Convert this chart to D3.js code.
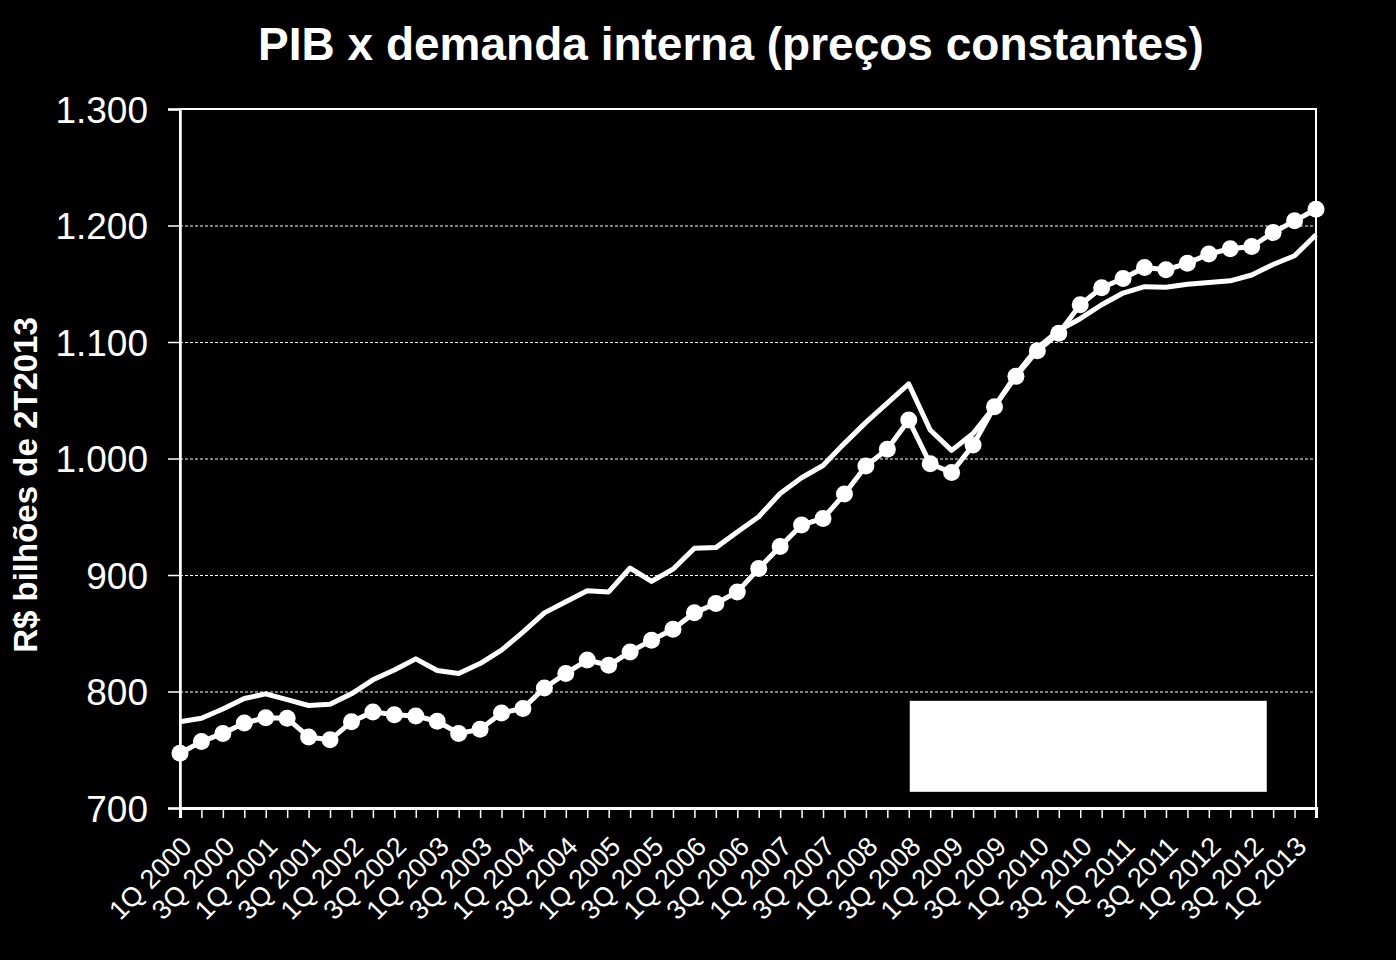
<!DOCTYPE html>
<html>
<head>
<meta charset="utf-8">
<script src="https://cdn.jsdelivr.net/npm/d3@7"></script>
<style>
  body { margin: 0; background: #000; }
  svg { display: block; }
  text { font-family: "Liberation Sans", Arial, sans-serif; fill: #fff; }
</style>
</head>
<body>
<div id="chart"></div>
<script>
// quarters 1Q 2000 .. 2Q 2013
const years = d3.range(2000, 2014);
const quarters = [];
years.forEach(y => [1, 2, 3, 4].forEach(q => quarters.push(q + "Q " + y)));
quarters.splice(54);

// linha simples
const pib = [
  774, 777, 785, 794, 798, 793, 788, 789, 798, 810,
  818.5, 828, 818, 815.5, 824, 835.5, 851, 867.5, 877, 886.5,
  885.5, 906, 894.5, 905, 923, 923.5, 937, 950, 970, 983.5,
  994, 1013, 1031, 1047.5, 1064, 1024.5, 1007, 1021.5, 1044.5, 1072,
  1095, 1110, 1120, 1132, 1142, 1147.5, 1147, 1149.5, 1151, 1152.5,
  1157.5, 1166.5, 1174, 1192
];

// linha com marcadores
const demanda = [
  747, 757, 764, 773, 777.5, 777, 761, 758.5, 774, 782.5,
  780, 779, 774.5, 764, 767.5, 781.5, 785.5, 803, 815.5, 827,
  822.5, 834, 844, 853.5, 867.5, 875.5, 885.5, 905.5, 924.5, 943,
  948.5, 969.5, 993.5, 1008, 1033, 995.5, 988, 1011.5, 1044.5, 1070.5,
  1092.5, 1107.5, 1132, 1146.5, 1154.5, 1164, 1162, 1167.5, 1175.5, 1180,
  1182, 1194, 1204, 1214
];

const yTicks = [700, 800, 900, 1000, 1100, 1200, 1300];

const W = 1396, H = 960;
const margin = { top: 109, right: 80, bottom: 152, left: 180 };
const width = W - margin.left - margin.right;
const height = H - margin.top - margin.bottom;

const ptBR = d3.formatLocale({ decimal: ",", thousands: ".", grouping: [3], currency: ["R$", ""] });
const fmt = ptBR.format(",");

const svg = d3.select("#chart").append("svg")
  .attr("width", W)
  .attr("height", H);

svg.append("rect").attr("width", W).attr("height", H).style("fill", "#000");

svg.append("text")
  .attr("x", 731)
  .attr("y", 60)
  .attr("text-anchor", "middle")
  .style("font-size", "46px")
  .style("font-weight", "bold")
  .text("PIB x demanda interna (preços constantes)");

const g = svg.append("g")
  .attr("transform", "translate(" + [margin.left, margin.top] + ")");

const xScale = d3.scalePoint()
  .domain(quarters)
  .range([0, width]);

const yScale = d3.scaleLinear()
  .domain([700, 1300])
  .range([height, 0]);

// grid
g.append("g")
  .attr("class", "grid")
  .call(d3.axisLeft(yScale).tickValues(yTicks.slice(1, -1)).tickSize(-width).tickFormat(""))
  .call(s => s.select(".domain").remove())
  .selectAll("line")
  .style("stroke", "#fff")
  .style("stroke-width", 1)
  .style("stroke-dasharray", "3,2");

// plot border
g.append("rect")
  .attr("width", width)
  .attr("height", height)
  .style("fill", "none")
  .style("stroke", "#fff")
  .style("stroke-width", 2);

const yAxis = g.append("g")
  .call(d3.axisLeft(yScale).tickValues(yTicks).tickSize(12).tickPadding(20).tickFormat(fmt));
yAxis.select(".domain").style("stroke", "#fff").style("stroke-width", 2.5);
yAxis.selectAll("line").style("stroke", "#fff").style("stroke-width", 1.5);
yAxis.selectAll("text")
  .style("font-size", "37px")
  .style("fill", "#fff")
  .attr("dy", "0.36em");

const xAxis = g.append("g")
  .attr("transform", "translate(0," + height + ")")
  .call(d3.axisBottom(xScale).tickSize(10).tickFormat((d, i) => i % 2 === 0 ? d : ""));
xAxis.select(".domain").style("stroke", "#fff").style("stroke-width", 3);
xAxis.selectAll("line").style("stroke", "#fff").style("stroke-width", 1.5);
xAxis.selectAll("text")
  .style("font-size", "27px")
  .style("fill", "#fff")
  .attr("text-anchor", "end")
  .attr("dy", null)
  .attr("y", null)
  .attr("transform", "translate(13,40) rotate(-45)");

svg.append("text")
  .attr("transform", "translate(37,485) rotate(-90)")
  .attr("text-anchor", "middle")
  .style("font-size", "33px")
  .style("font-weight", "bold")
  .text("R$ bilhões de 2T2013");

const line = d3.line()
  .x((d, i) => xScale(quarters[i]))
  .y(d => yScale(d));

g.append("path")
  .attr("d", line(pib))
  .style("fill", "none")
  .style("stroke", "#fff")
  .style("stroke-width", 5)
  .style("stroke-linejoin", "round");

g.append("path")
  .attr("d", line(demanda))
  .style("fill", "none")
  .style("stroke", "#fff")
  .style("stroke-width", 5)
  .style("stroke-linejoin", "round");

g.append("g").selectAll("circle")
  .data(demanda)
  .enter().append("circle")
  .attr("cx", (d, i) => xScale(quarters[i]))
  .attr("cy", d => yScale(d))
  .attr("r", 8.5)
  .style("fill", "#fff");

// legenda (caixa em branco)
g.append("rect")
  .attr("x", xScale(quarters[34]) + 1)
  .attr("y", yScale(792))
  .attr("width", 357)
  .attr("height", 91)
  .style("fill", "#fff");
</script>
</body>
</html>
